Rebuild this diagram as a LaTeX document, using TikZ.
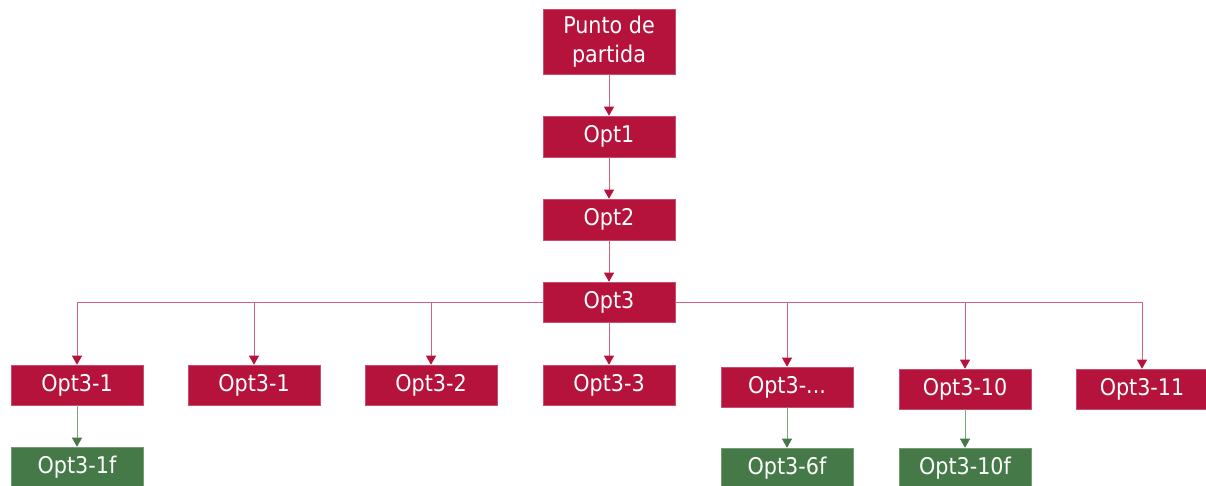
\documentclass[tikz,border=0pt]{standalone}
\usepackage{fontspec}
\setmainfont{DejaVu Sans Condensed}
\usetikzlibrary{arrows.meta}
\definecolor{nodered}{RGB}{181,19,60}
\definecolor{nodegreen}{RGB}{69,122,72}
\definecolor{linkred}{RGB}{205,100,130}
\definecolor{linkgreen}{RGB}{120,165,122}
\begin{document}
\begin{tikzpicture}[x=1pt,y=-1pt,
  redbox/.style={fill=nodered,draw=nodered!75!white,line width=0.6pt,text=white,minimum width=132pt,minimum height=40pt,inner sep=0pt,font=\fontsize{23pt}{29pt}\selectfont,align=center},
  greenbox/.style={redbox,fill=nodegreen,draw=nodegreen!75!white},
  redlink/.style={draw=linkred,line width=0.8pt,-{Triangle[width=10pt,length=9pt,color=nodered]}},
  greenlink/.style={draw=linkgreen,line width=0.8pt,-{Triangle[width=10pt,length=9pt,color=nodegreen]}}]
\useasboundingbox (0,0) rectangle (1206,486);
\clip (0,0) rectangle (1206,486);
\node[redbox,minimum height=65pt] (start) at (609,41.5) {Punto de\\partida};
\node[redbox,minimum height=41pt] (o1) at (609,136.5) {Opt1};
\node[redbox,minimum height=41pt] (o2) at (609,219.5) {Opt2};
\node[redbox] (o3) at (609,302) {Opt3};
\node[redbox] (r1) at (77,385) {Opt3-1};
\node[redbox] (r2) at (254,385) {Opt3-1};
\node[redbox] (r3) at (431,385) {Opt3-2};
\node[redbox] (r4) at (609,385) {Opt3-3};
\node[redbox] (r5) at (787,387) {Opt3-...};
\node[redbox] (r6) at (965,389) {Opt3-10};
\node[redbox] (r7) at (1142,389) {Opt3-11};
\node[greenbox] (g1) at (77,467) {Opt3-1f};
\node[greenbox] (g5) at (787,468) {Opt3-6f};
\node[greenbox] (g6) at (965,468) {Opt3-10f};
\draw[redlink] (start) -- (o1);
\draw[redlink] (o1) -- (o2);
\draw[redlink] (o2) -- (o3);
\draw[redlink] (o3.west) -| (r1.north);
\draw[redlink] (o3.west) -| (r2.north);
\draw[redlink] (o3.west) -| (r3.north);
\draw[redlink] (o3) -- (r4);
\draw[redlink] (o3.east) -| (r5.north);
\draw[redlink] (o3.east) -| (r6.north);
\draw[redlink] (o3.east) -| (r7.north);
\draw[greenlink] (r1) -- (g1);
\draw[greenlink] (r5) -- (g5);
\draw[greenlink] (r6) -- (g6);
\end{tikzpicture}
\end{document}
